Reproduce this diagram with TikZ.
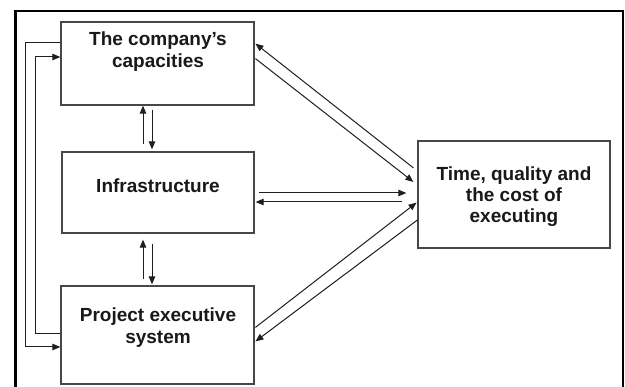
\documentclass[tikz,border=0pt]{standalone}
\usepackage{fontspec}
\setmainfont{Liberation Sans}
\usetikzlibrary{arrows.meta}
\tikzset{
  box/.style={draw=black!72, line width=1.3pt, inner sep=0pt},
  lbl/.style={font=\bfseries\fontsize{19}{22}\selectfont, align=center, inner sep=0pt, text=black!90},
  arr/.style={draw=black!88, line width=1pt, -{Triangle[length=8pt,width=6.5pt]}},
  link/.style={draw=black!80, line width=1pt}
}
\begin{document}
\begin{tikzpicture}[x=1pt,y=-1pt]
  \clip (0,0) rectangle (625,387);
  \fill[white] (0,0) rectangle (625,387);
  % outer frame, open at the bottom edge of the page
  \draw[line width=2.8pt, black] (15.5,11) rectangle (623,420);

  % boxes
  \node[box, minimum width=193pt, minimum height=83pt] (b1) at (157.5,63.5) {};
  \node[box, minimum width=192pt, minimum height=81pt] (b2) at (158,192.5) {};
  \node[box, minimum width=193pt, minimum height=98pt] (b3) at (157.5,335) {};
  \node[box, minimum width=192pt, minimum height=107pt] (b4) at (514,194.5) {};

  % labels
  \node[lbl] (t1) at (158,52) {The company's\\capacities};
  \node[lbl] (t2) at (158,186) {Infrastructure};
  \node[lbl] (t3) at (158,328) {Project executive\\system};
  \node[lbl, font=\bfseries\fontsize{19}{21}\selectfont] (t4) at (514,197) {Time, quality and\\the cost of\\executing};

  % vertical exchange between the left boxes
  \draw[arr, shorten <=7pt] (b2.north -| 143,0) -- (b1.south -| 143,0);
  \draw[arr, shorten <=4pt, shorten >=2pt] (b1.south -| 152,0) -- (b2.north -| 152,0);
  \draw[arr, shorten <=6pt, shorten >=6pt] (b3.north -| 143,0) -- (b2.south -| 143,0);
  \draw[arr, shorten <=10pt, shorten >=1pt] (b2.south -| 152,0) -- (b3.north -| 152,0);

  % feedback loops on the left
  \draw[arr] (b1.west |- 0,43) -- ++(-35,0) |- (b3.west |- 0,347);
  \draw[arr] (b3.west |- 0,334) -- ++(-25,0) |- (b1.west |- 0,57);

  % links with the result box
  \draw[arr, shorten <=5pt, shorten >=1pt] (b4.west |- 0,171) -- (b1.east |- 0,43);
  \draw[arr, shorten <=1pt, shorten >=5pt] (b1.east |- 0,58) -- (b4.west |- 0,185);
  \draw[arr, shorten <=4pt, shorten >=11pt] (b2.east |- 0,193) -- (b4.west |- 0,193);
  \draw[arr, shorten <=15pt, shorten >=1pt] (b4.west |- 0,202) -- (b2.east |- 0,202);
  \draw[arr, shorten <=1pt, shorten >=1pt] (b3.east |- 0,328) -- (b4.west |- 0,202);
  \draw[arr, shorten >=1pt] (b4.west |- 0,220) -- (b3.east |- 0,342);
\end{tikzpicture}
\end{document}
